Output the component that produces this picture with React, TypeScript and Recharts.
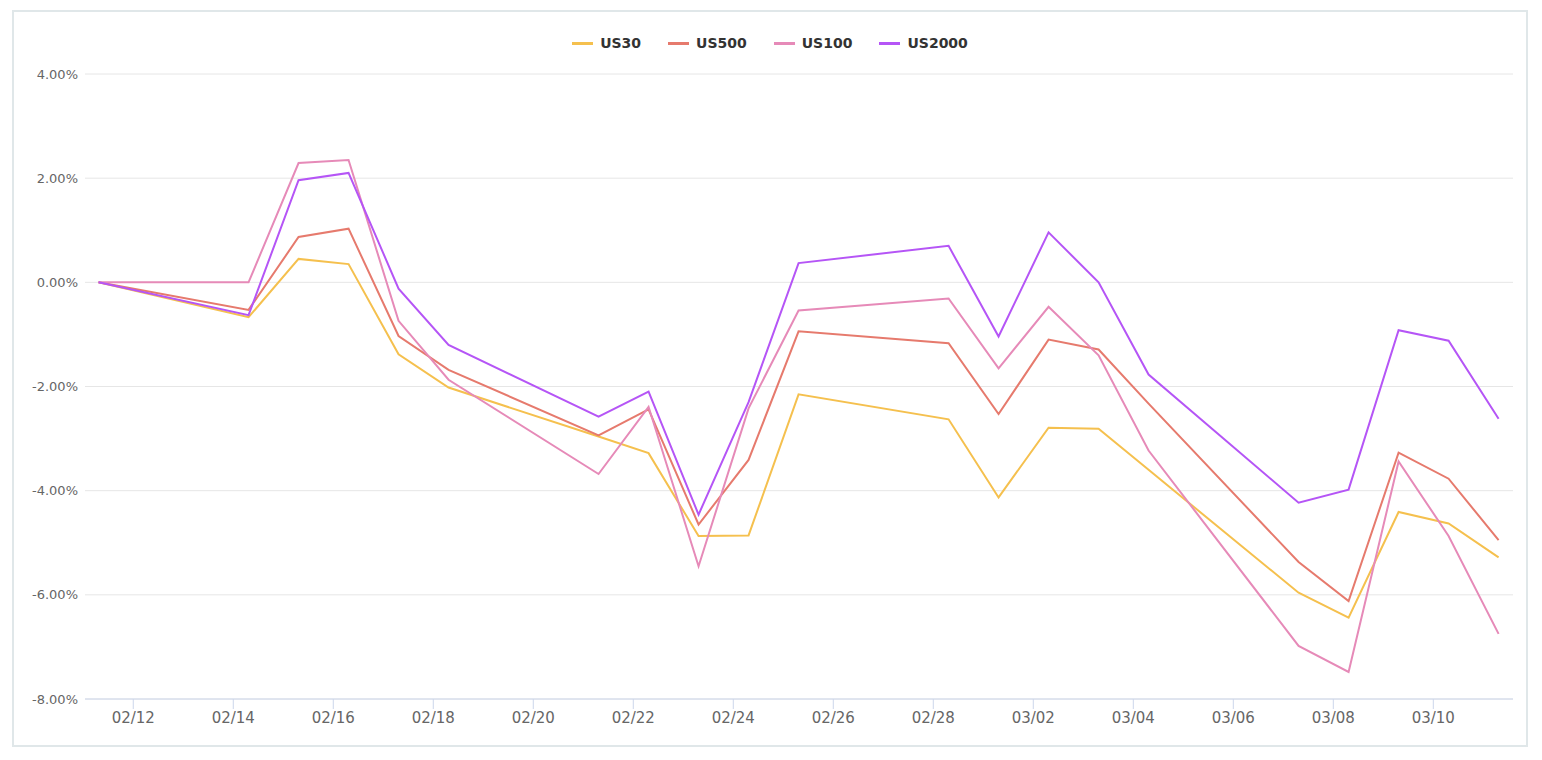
import { LineChart, Line, XAxis, YAxis, CartesianGrid } from 'recharts';

// trading days (close snapshot time), 2022
const dates = [
  '2022-02-11T07:20:00Z', '2022-02-14T07:20:00Z', '2022-02-15T07:20:00Z', '2022-02-16T07:20:00Z',
  '2022-02-17T07:20:00Z', '2022-02-18T07:20:00Z', '2022-02-21T07:20:00Z', '2022-02-22T07:20:00Z',
  '2022-02-23T07:20:00Z', '2022-02-24T07:20:00Z', '2022-02-25T07:20:00Z', '2022-02-28T07:20:00Z',
  '2022-03-01T07:20:00Z', '2022-03-02T07:20:00Z', '2022-03-03T07:20:00Z', '2022-03-04T07:20:00Z',
  '2022-03-07T07:20:00Z', '2022-03-08T07:20:00Z', '2022-03-09T07:20:00Z', '2022-03-10T07:20:00Z',
  '2022-03-11T07:20:00Z',
];

const us30 = [0, -0.67, 0.45, 0.35, -1.38, -2.02, -2.96, -3.28, -4.87, -4.86, -2.15, -2.63, -4.13, -2.79, -2.81, -3.6, -5.96, -6.44, -4.41, -4.63, -5.28];
const us500 = [0, -0.53, 0.87, 1.03, -1.03, -1.68, -2.94, -2.44, -4.65, -3.41, -0.94, -1.17, -2.53, -1.1, -1.29, -2.33, -5.37, -6.12, -3.27, -3.77, -4.95];
const us100 = [0, 0, 2.29, 2.35, -0.74, -1.87, -3.68, -2.39, -5.45, -2.42, -0.54, -0.31, -1.65, -0.47, -1.4, -3.23, -6.98, -7.48, -3.44, -4.87, -6.75];
const us2000 = [0, -0.63, 1.96, 2.1, -0.12, -1.2, -2.58, -2.1, -4.46, -2.3, 0.37, 0.7, -1.04, 0.96, 0, -1.77, -4.23, -3.98, -0.92, -1.12, -2.62];

const xTicks = [
  '2022-02-12', '2022-02-14', '2022-02-16', '2022-02-18', '2022-02-20', '2022-02-22', '2022-02-24',
  '2022-02-26', '2022-02-28', '2022-03-02', '2022-03-04', '2022-03-06', '2022-03-08', '2022-03-10',
];
const yTicks = [-8, -6, -4, -2, 0, 2, 4];

const series = [
  { key: 'US30', values: us30, color: '#f5c04e' },
  { key: 'US500', values: us500, color: '#e67a6d' },
  { key: 'US100', values: us100, color: '#e68ab8' },
  { key: 'US2000', values: us2000, color: '#b555f6' },
];

const data = dates.map((d, i) => {
  const row: any = { t: Date.parse(d) };
  series.forEach(s => { row[s.key] = s.values[i]; });
  return row;
});

const xDomain = [Date.parse('2022-02-11T00:50:00Z'), Date.parse('2022-03-11T14:15:00Z')];

const fmtDate = (v: number) => {
  const d = new Date(v);
  const mm = String(d.getUTCMonth() + 1).padStart(2, '0');
  const dd = String(d.getUTCDate()).padStart(2, '0');
  return `${mm}/${dd}`;
};

const font = '"DejaVu Sans", sans-serif';

export default function App() {
  return (
    <div style={{
      position: 'absolute', left: 12, top: 10, width: 1516, height: 737,
      border: '2px solid #e0e7e9', boxSizing: 'border-box', background: '#fff', fontFamily: font,
    }}>
      <div style={{
        position: 'absolute', top: 21, left: 0, right: 0, height: 20,
        display: 'flex', justifyContent: 'center', alignItems: 'center',
      }}>
        {series.map((s, i) => (
          <div key={s.key} style={{ display: 'flex', alignItems: 'center', marginRight: i < series.length - 1 ? 27 : 0 }}>
            <span style={{ width: 21, height: 3, background: s.color, marginRight: 7, display: 'inline-block' }} />
            <span style={{ fontSize: 14, fontWeight: 700, color: '#333' }}>{s.key}</span>
          </div>
        ))}
      </div>
      <LineChart width={1512} height={733} data={data}
        margin={{ top: 62, right: 13, bottom: 0, left: 0 }}>
        <CartesianGrid stroke="#e6e6e6" vertical={false} />
        <XAxis dataKey="t" type="number" domain={xDomain} allowDataOverflow
          ticks={xTicks.map(d => Date.parse(d))} tickFormatter={fmtDate}
          height={46} stroke="#ccd6eb" tickSize={10} tickMargin={3}
          tick={{ fill: '#666', fontSize: 15, fontFamily: font }} interval={0} />
        <YAxis domain={[-8, 4]} ticks={yTicks} width={71} axisLine={false} tickLine={false}
          tickSize={6} tickMargin={1} interval={0}
          tickFormatter={(v: number) => `${v.toFixed(2)}%`}
          tick={{ fill: '#666', fontSize: 13, fontFamily: font }} />
        {series.map(s => (
          <Line key={s.key} type="linear" dataKey={s.key} stroke={s.color} strokeWidth={2}
            dot={false} activeDot={false} isAnimationActive={false} />
        ))}
      </LineChart>
    </div>
  );
}
